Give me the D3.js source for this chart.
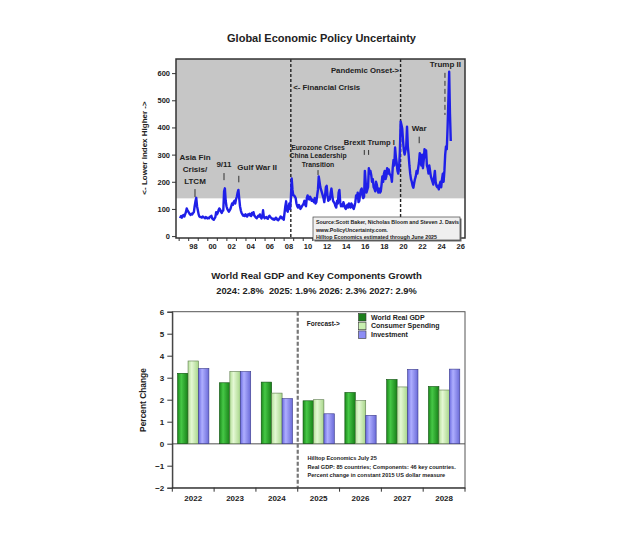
<!DOCTYPE html>
<html>
<head>
<meta charset="utf-8">
<script src="https://cdn.jsdelivr.net/npm/d3@7"></script>
<style>
body { margin: 0; background: #fff; }
text { font-family: "Liberation Sans", Arial, sans-serif; font-weight: bold; fill: #222; }
</style>
</head>
<body>
<div id="chart"></div>
<script>
// ---------- top chart data: Global EPU, monthly from Jan 1997 ----------
var epuStartYear = 1997;
var epuMonthly = [
    72, 70, 74, 68, 75, 78, 72, 80, 88, 102, 95, 90,        // 1997
    85, 80, 78, 82, 80, 85, 88, 110, 128, 141, 110, 95,     // 1998
    80, 72, 70, 70, 68, 72, 70, 68, 66, 70, 68, 65,         // 1999
    68, 66, 70, 72, 75, 65, 62, 60, 65, 70, 88, 80,         // 2000
    85, 95, 102, 98, 90, 85, 92, 95, 165, 176, 130, 110,    // 2001
    100, 95, 90, 95, 100, 110, 120, 115, 125, 130, 120, 135,// 2002
    145, 160, 170, 140, 110, 95, 85, 80, 75, 78, 74, 80,    // 2003
    75, 72, 80, 78, 82, 76, 74, 85, 80, 88, 76, 72,         // 2004
    68, 66, 70, 75, 72, 80, 70, 65, 72, 95, 70, 66,         // 2005
    68, 70, 66, 64, 72, 75, 70, 68, 65, 62, 64, 60,         // 2006
    62, 68, 65, 60, 58, 62, 66, 72, 70, 65, 68, 60,         // 2007
    85, 110, 128, 95, 90, 105, 120, 100, 140, 212, 170, 150,// 2008
    150, 145, 140, 120, 110, 105, 115, 110, 100, 105, 110, 115, // 2009
    120, 130, 115, 110, 140, 150, 140, 135, 145, 140, 130, 135, // 2010
    130, 125, 140, 120, 125, 150, 170, 220, 200, 180, 170, 160, // 2011
    150, 140, 125, 150, 180, 185, 150, 130, 140, 135, 160, 175, // 2012
    150, 130, 125, 120, 110, 105, 130, 120, 160, 170, 125, 110, // 2013
    115, 110, 125, 115, 105, 100, 110, 115, 105, 120, 110, 105, // 2014
    120, 115, 105, 100, 110, 125, 150, 140, 160, 125, 130, 155, // 2015
    170, 175, 150, 140, 145, 240, 200, 160, 170, 180, 250, 230, // 2016
    240, 225, 200, 210, 180, 175, 165, 200, 190, 170, 160, 175, // 2017
    160, 165, 190, 220, 200, 230, 240, 210, 220, 250, 230, 245, // 2018
    230, 225, 220, 200, 250, 280, 260, 326, 290, 270, 240, 230, // 2019
    250, 310, 422, 410, 395, 350, 315, 300, 315, 330, 403, 330, // 2020
    300, 260, 230, 210, 200, 185, 178, 195, 210, 220, 240, 230, // 2021
    250, 270, 305, 280, 260, 300, 250, 280, 320, 290, 315, 260, // 2022
    250, 230, 260, 240, 220, 210, 200, 190, 215, 240, 200, 185, // 2023
    180, 185, 172, 190, 200, 180, 210, 230, 200, 240, 300, 330, // 2024
    320, 400, 500, 605, 450, 350                                // 2025
];
var epuLabelYears = d3.range(1998, 2027, 2);
var epuYTicks = [0, 100, 200, 300, 400, 500, 600];
var epuShadeFrom = 139;
var epuEventYears = [2008.7, 2020.2];   // financial crisis, pandemic onset

// ---------- bottom chart data ----------
var gdpYears = ["2022", "2023", "2024", "2025", "2026", "2027", "2028"];
var gdpSeries = ["World Real GDP", "Consumer Spending", "Investment"];
var worldGdp = [3.2, 2.77, 2.8, 1.95, 2.33, 2.92, 2.6];
var consumerSpending = [3.76, 3.28, 2.3, 2.0, 1.96, 2.58, 2.44];
var investment = [3.42, 3.28, 2.05, 1.36, 1.29, 3.38, 3.39];
var gdpYTicks = [-2, -1, 0, 1, 2, 3, 4, 5, 6];

var canvas_width = 632,
    canvas_height = 544;

var svg = d3.select("div#chart")
    .append("svg")
    .attr("width", canvas_width)
    .attr("height", canvas_height);

var defs = svg.append("defs");

function renderEpu() {
    var box = { left: 176, right: 465, top: 59, bottom: 238 };

    var xScale = d3.scaleLinear()
        .domain([1996.67, 2026.95])
        .range([box.left, box.right]);
    var yScale = d3.scaleLinear()
        .domain([-7, 652])
        .range([box.bottom, box.top]);

    var g = svg.append("g");

    // title
    svg.append("text")
        .attr("x", 321.5)
        .attr("y", 38)
        .attr("dy", "0.35em")
        .attr("text-anchor", "middle")
        .style("font-size", "11px")
        .text("Global Economic Policy Uncertainty");

    // white plot and grey shaded region
    g.append("rect")
        .attr("x", box.left).attr("y", box.top)
        .attr("width", box.right - box.left)
        .attr("height", box.bottom - box.top)
        .attr("fill", "#fff");
    g.append("rect")
        .attr("x", box.left).attr("y", box.top)
        .attr("width", box.right - box.left)
        .attr("height", yScale(epuShadeFrom) - box.top)
        .attr("fill", "#c6c6c6");

    // event lines
    g.selectAll(".event")
        .data(epuEventYears)
        .enter()
        .append("line")
        .attr("x1", d => xScale(d)).attr("x2", d => xScale(d))
        .attr("y1", box.top).attr("y2", box.bottom)
        .attr("stroke", "#222")
        .attr("stroke-width", 1.4)
        .attr("stroke-dasharray", "3,2");

    // the line
    var line = d3.line()
        .x((d, i) => xScale(epuStartYear + i / 12 + 1 / 24))
        .y(d => yScale(d));
    g.append("path")
        .datum(epuMonthly)
        .attr("fill", "none")
        .attr("stroke", "#1f1fe8")
        .attr("stroke-width", 2.4)
        .attr("stroke-linejoin", "round")
        .attr("d", line);

    // annotations
    function label(txt, year, val, anchor, size) {
        g.append("text")
            .attr("x", xScale(year))
            .attr("y", yScale(val))
            .attr("dy", "0.35em")
            .attr("text-anchor", anchor || "middle")
            .style("font-size", (size || 8) + "px")
            .text(txt);
    }
    function mark(year, v1, v2, dashed) {
        g.append("line")
            .attr("x1", xScale(year)).attr("x2", xScale(year))
            .attr("y1", yScale(v1)).attr("y2", yScale(v2))
            .attr("stroke", "#333")
            .attr("stroke-width", 1)
            .attr("stroke-dasharray", dashed ? "5,3" : null);
    }

    label("Asia Fin", 1998.66, 290);
    label("Crisis/", 1998.66, 246);
    label("LTCM", 1998.66, 203);
    mark(1998.66, 173, 144);

    label("9/11", 2001.7, 264);
    mark(2001.7, 232, 206);

    label("Gulf War II", 2003.1, 253, "start");
    mark(2003.25, 222, 198);

    label("Eurozone Crises", 2011.55, 326, "middle", 6.8);
    label("China Leadership", 2011.55, 296, "middle", 6.8);
    label("Transition", 2011.55, 264, "middle", 6.8);
    mark(2011.55, 243, 225);

    label("Brexit Trump I", 2014.25, 345, "start", 7.6);
    mark(2016.4, 317, 299);
    mark(2016.85, 317, 299);

    label("War", 2022.15, 399);
    mark(2022.15, 366, 342);

    label("Trump II", 2024.9, 633);
    mark(2024.85, 601, 446, true);

    label("Pandemic Onset->", 2020.05, 612, "end", 7.8);
    label("<- Financial Crisis", 2008.95, 548, "start", 7.8);

    // frame
    g.append("rect")
        .attr("x", box.left).attr("y", box.top)
        .attr("width", box.right - box.left)
        .attr("height", box.bottom - box.top)
        .attr("fill", "none")
        .attr("stroke", "#333")
        .attr("stroke-width", 1.5);

    // y axis
    var yAxis = g.append("g")
        .attr("transform", `translate(${box.left},0)`)
        .call(d3.axisLeft(yScale).tickValues(epuYTicks).tickSize(4).tickPadding(2));
    yAxis.select(".domain").remove();
    yAxis.selectAll("line").attr("stroke", "#333");
    yAxis.selectAll("text")
        .style("font-size", "7.5px")
        .style("font-family", "'Liberation Sans', Arial, sans-serif")
        .attr("fill", "#222");

    // x axis: yearly ticks, labels mid year
    var years = d3.range(1997, 2027);
    g.selectAll(".xtick")
        .data(years)
        .enter()
        .append("line")
        .attr("x1", d => xScale(d)).attr("x2", d => xScale(d))
        .attr("y1", box.bottom).attr("y2", box.bottom + 3)
        .attr("stroke", "#333");
    g.selectAll(".xlab")
        .data(epuLabelYears)
        .enter()
        .append("text")
        .attr("x", d => xScale(d + 0.5))
        .attr("y", 246)
        .attr("dy", "0.35em")
        .attr("text-anchor", "middle")
        .style("font-size", "7.5px")
        .text(d => d3.format("02")(d % 100));

    // y label
    svg.append("text")
        .attr("transform", `translate(144,148) rotate(-90)`)
        .attr("dy", "0.35em")
        .attr("text-anchor", "middle")
        .style("font-size", "8px")
        .text("<- Lower Index Higher ->");

    // source box
    var sb = g.append("g").attr("transform", "translate(313,217)");
    sb.append("rect")
        .attr("x", 1.5).attr("y", 1.5).attr("width", 147).attr("height", 23)
        .attr("fill", "#666");
    sb.append("rect")
        .attr("width", 147).attr("height", 23)
        .attr("fill", "#efefef")
        .attr("stroke", "#444")
        .attr("stroke-width", 0.7);
    var srcLines = ["Source:Scott Baker, Nicholas Bloom and Steven J. Davis",
        "www.PolicyUncertainty.com.",
        "Hilltop Economics estimated through June 2025"];
    sb.selectAll("text")
        .data(srcLines)
        .enter()
        .append("text")
        .attr("x", 3)
        .attr("y", (d, i) => 5 + i * 7.8)
        .attr("dy", "0.35em")
        .style("font-size", "5.3px")
        .text(d => d);
}

function renderGdp() {
    var box = { left: 172.3, right: 465, top: 311.7, bottom: 487.7 };

    var x0 = d3.scaleBand()
        .domain(gdpYears)
        .range([box.left, box.right]);
    var x1 = d3.scaleBand()
        .domain(gdpSeries)
        .range([5.3, 36.6]);
    var yScale = d3.scaleLinear()
        .domain([-2, 6])
        .range([box.bottom, box.top]);

    var colors = {
        "World Real GDP": ["#1b8a1b", "#46c846", "#178017", "#0f4f0f"],
        "Consumer Spending": ["#b6e09a", "#e4f8d4", "#a8d68a", "#5c7a4c"],
        "Investment": ["#6b6be0", "#aeaeff", "#6a6ad8", "#3a3a88"]
    };

    gdpSeries.forEach(function (s, i) {
        var grad = defs.append("linearGradient")
            .attr("id", "grad" + i)
            .attr("x1", "0%").attr("x2", "100%");
        grad.append("stop").attr("offset", "0%").attr("stop-color", colors[s][0]);
        grad.append("stop").attr("offset", "35%").attr("stop-color", colors[s][1]);
        grad.append("stop").attr("offset", "100%").attr("stop-color", colors[s][2]);
    });

    // titles
    svg.append("text")
        .attr("x", 316.5).attr("y", 276).attr("dy", "0.35em")
        .attr("text-anchor", "middle")
        .style("font-size", "9.6px")
        .text("World Real GDP and Key Components Growth");
    svg.append("text")
        .attr("x", 316.5).attr("y", 290.5).attr("dy", "0.35em")
        .attr("text-anchor", "middle")
        .style("font-size", "9.3px")
        .style("white-space", "pre")
        .text("2024: 2.8%  2025: 1.9% 2026: 2.3% 2027: 2.9%");

    var g = svg.append("g");

    // zero line
    g.append("line")
        .attr("x1", box.left).attr("x2", box.right)
        .attr("y1", yScale(0)).attr("y2", yScale(0))
        .attr("stroke", "#8a8a8a")
        .attr("stroke-width", 1.5);

    var rows = gdpYears.map((y, i) => ({
        year: y,
        values: [worldGdp[i], consumerSpending[i], investment[i]]
    }));

    g.selectAll(".grp")
        .data(rows)
        .enter()
        .append("g")
        .attr("transform", d => `translate(${x0(d.year)},0)`)
        .selectAll("rect")
        .data(d => d.values.map((v, i) => ({ key: gdpSeries[i], idx: i, value: v })))
        .enter()
        .append("rect")
        .attr("x", d => x1(d.key))
        .attr("width", x1.bandwidth())
        .attr("y", d => yScale(Math.max(0, d.value)))
        .attr("height", d => Math.abs(yScale(d.value) - yScale(0)))
        .attr("fill", d => `url(#grad${d.idx})`)
        .attr("stroke", d => colors[d.key][3])
        .attr("stroke-width", 0.6);

    // forecast divider
    g.append("line")
        .attr("x1", x0("2025")).attr("x2", x0("2025"))
        .attr("y1", box.top).attr("y2", box.bottom)
        .attr("stroke", "#777")
        .attr("stroke-width", 2.2)
        .attr("stroke-dasharray", "4,2");

    g.append("text")
        .attr("x", x0("2025") + 9).attr("y", 324).attr("dy", "0.35em")
        .style("font-size", "6.5px")
        .text("Forecast->");

    // legend
    var legendFill = ["#1d7f1d", "#c8efb0", "#8e8ef5"];
    var lg = g.selectAll(".legend")
        .data(gdpSeries)
        .enter()
        .append("g")
        .attr("transform", (d, i) => `translate(358.5,${313.5 + i * 8.7})`);
    lg.append("rect")
        .attr("width", 7.5).attr("height", 7.5)
        .attr("fill", (d, i) => legendFill[i])
        .attr("stroke", "#333")
        .attr("stroke-width", 0.6);
    lg.append("text")
        .attr("x", 12.5).attr("y", 3.8).attr("dy", "0.35em")
        .style("font-size", "7px")
        .text(d => d);

    // note
    var noteLines = ["Hilltop Economics July 25",
        "Real GDP: 85 countries; Components: 46 key countries.",
        "Percent change in constant 2015 US dollar measure"];
    g.selectAll(".note")
        .data(noteLines)
        .enter()
        .append("text")
        .attr("x", 307.5)
        .attr("y", (d, i) => 458 + i * 8.7)
        .attr("dy", "0.35em")
        .style("font-size", "5.6px")
        .text(d => d);

    // frame
    g.append("rect")
        .attr("x", box.left).attr("y", box.top)
        .attr("width", box.right - box.left)
        .attr("height", box.bottom - box.top)
        .attr("fill", "none")
        .attr("stroke", "#555")
        .attr("stroke-width", 1);

    // y axis
    var yAxis = g.append("g")
        .attr("transform", `translate(${box.left},0)`)
        .call(d3.axisLeft(yScale).tickValues(gdpYTicks).tickSize(5).tickPadding(3));
    yAxis.select(".domain").attr("stroke", "#333");
    yAxis.selectAll("line").attr("stroke", "#333");
    yAxis.selectAll("text")
        .style("font-size", "8px")
        .style("font-family", "'Liberation Sans', Arial, sans-serif")
        .attr("fill", "#222");

    // x axis
    var xAxis = g.append("g")
        .attr("transform", `translate(0,${box.bottom})`)
        .call(d3.axisBottom(x0).tickSize(0).tickPadding(8));
    xAxis.select(".domain").attr("stroke", "#333");
    xAxis.selectAll("text")
        .style("font-size", "8px")
        .style("font-family", "'Liberation Sans', Arial, sans-serif")
        .attr("fill", "#222");
    g.selectAll(".xt")
        .data(gdpYears.concat(["end"]))
        .enter()
        .append("line")
        .attr("x1", d => d === "end" ? box.right : x0(d))
        .attr("x2", d => d === "end" ? box.right : x0(d))
        .attr("y1", box.bottom).attr("y2", box.bottom + 4)
        .attr("stroke", "#333");

    svg.append("text")
        .attr("transform", "translate(143,400) rotate(-90)")
        .attr("dy", "0.35em")
        .attr("text-anchor", "middle")
        .style("font-size", "8.4px")
        .text("Percent Change");
}

renderEpu();
renderGdp();
</script>
</body>
</html>
